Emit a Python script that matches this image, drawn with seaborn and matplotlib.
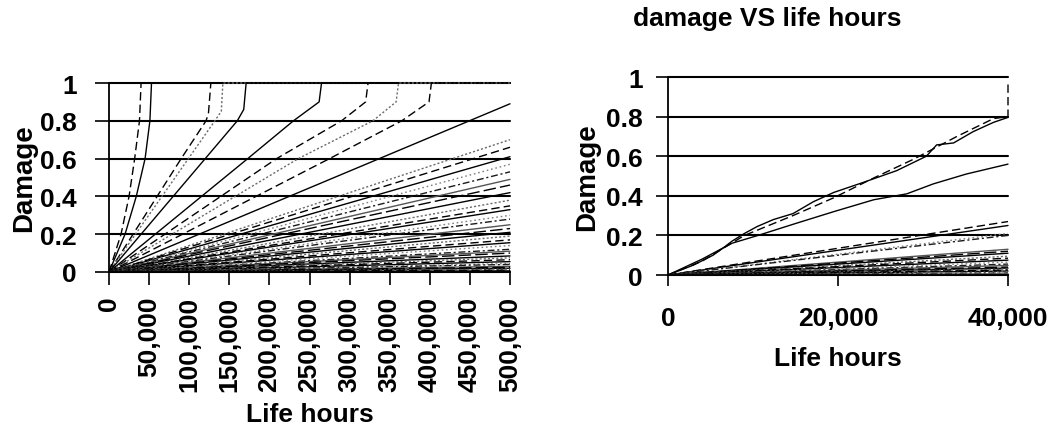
import matplotlib
matplotlib.use("Agg")
import matplotlib.pyplot as plt
import numpy as np
import pandas as pd
import seaborn as sns

# ---------------- data ----------------
# Left panel: curves that reach failure (damage = 1) before 500,000 h
fail_hours = [
    [0, 15e3, 25e3, 32e3, 38e3, 40e3, 500e3],
    [0, 20e3, 34e3, 45e3, 51e3, 53e3, 500e3],
    [0, 60e3, 90e3, 121e3, 124e3, 127e3, 500e3],
    [0, 66e3, 99e3, 132e3, 140e3, 142e3, 500e3],
    [0, 80e3, 120e3, 160e3, 168e3, 171e3, 500e3],
    [0, 173e3, 230e3, 262e3, 265e3, 500e3],
    [0, 209e3, 290e3, 320e3, 323e3, 500e3],
    [0, 236e3, 329e3, 358e3, 361e3, 500e3],
    [0, 275e3, 365e3, 399e3, 402e3, 500e3],
]
fail_damage = [
    [0, 0.2, 0.4, 0.6, 0.8, 1.0, 1.0],
    [0, 0.2, 0.4, 0.6, 0.8, 1.0, 1.0],
    [0, 0.4, 0.6, 0.8, 0.84, 1.0, 1.0],
    [0, 0.4, 0.6, 0.8, 0.85, 1.0, 1.0],
    [0, 0.4, 0.6, 0.8, 0.86, 1.0, 1.0],
    [0, 0.6, 0.8, 0.9, 1.0, 1.0],
    [0, 0.6, 0.8, 0.9, 1.0, 1.0],
    [0, 0.6, 0.8, 0.9, 1.0, 1.0],
    [0, 0.6, 0.8, 0.9, 1.0, 1.0],
]
# Left panel: damage reached at 500,000 h by the remaining load cases
fan_hours_left = [0, 500e3]
fan_end_left = [0.89, 0.70, 0.66, 0.61, 0.57, 0.53, 0.49, 0.46, 0.42, 0.38,
                0.35, 0.33, 0.30, 0.28, 0.25, 0.23, 0.21, 0.19, 0.17, 0.155,
                0.14, 0.12, 0.11, 0.10, 0.085, 0.075, 0.065, 0.055, 0.045,
                0.04, 0.03, 0.025, 0.02, 0.015, 0.01, 0.006]

# Right panel: recorded curves over the first 40,000 h
rec_hours = [
    [0, 3000, 5300, 6600, 7500, 9000, 10500, 12400, 14700, 17100, 19500,
     23000, 26900, 30400, 31600, 33600, 35900, 38300, 40000],
    [0, 4000, 9000, 14700, 19500, 24200, 28900, 34000, 38300, 40000, 40000],
    [0, 4000, 7500, 10600, 15000, 19500, 24200, 28100, 31200, 35100, 40000],
]
rec_damage = [
    [0, 0.05, 0.10, 0.14, 0.17, 0.21, 0.245, 0.28, 0.31, 0.37, 0.417,
     0.468, 0.527, 0.60, 0.657, 0.667, 0.724, 0.771, 0.796],
    [0, 0.07, 0.2, 0.30, 0.39, 0.49, 0.585, 0.70, 0.79, 0.80, 0.97],
    [0, 0.08, 0.16, 0.20, 0.26, 0.32, 0.38, 0.41, 0.46, 0.51, 0.56],
]
fan_hours_right = [0, 40000]
fan_end_right = [0.27, 0.25, 0.21, 0.20, 0.13, 0.12, 0.11, 0.095, 0.085,
                 0.075, 0.065, 0.055, 0.048, 0.04, 0.035, 0.03, 0.025, 0.02,
                 0.015, 0.01, 0.006]

y_ticks = [0, 0.2, 0.4, 0.6, 0.8, 1.0]
y_tick_labels = ["0", "0.2", "0.4", "0.6", "0.8", "1"]
x_ticks_left = [0, 50000, 100000, 150000, 200000, 250000, 300000, 350000,
                400000, 450000, 500000]
x_ticks_right = [0, 20000, 40000]

# ---------------- line styles ----------------
STYLES = [
    ("#000000", ""),
    ("#6a6a6a", (1.5, 1.5)),
    ("#000000", (6, 3)),
    ("#000000", ""),
    ("#808080", (1.2, 2.0)),
    ("#1a1a1a", (5, 2, 1.5, 2)),
    ("#555555", ""),
    ("#000000", (9, 3)),
]
fail_style_idx = [2, 0, 2, 1, 0, 0, 2, 1, 2]
rec_style_idx = [0, 2, 0]


def build(curves):
    rows, pal, dash = [], {}, {}
    for name, hrs, dmg, (col, ds) in curves:
        for h, d in zip(hrs, dmg):
            rows.append((name, h, d))
        pal[name] = col
        dash[name] = ds
    df = pd.DataFrame(rows, columns=["series", "hours", "damage"])
    return df, pal, dash


left_curves = []
for i, (h, d) in enumerate(zip(fail_hours, fail_damage)):
    left_curves.append((f"F{i}", h, d, STYLES[fail_style_idx[i]]))
for i, v in enumerate(fan_end_left):
    left_curves.append((f"L{i}", fan_hours_left, [0, v], STYLES[i % len(STYLES)]))

right_curves = []
for i, (h, d) in enumerate(zip(rec_hours, rec_damage)):
    right_curves.append((f"R{i}", h, d, STYLES[rec_style_idx[i]]))
for i, v in enumerate(fan_end_right):
    right_curves.append((f"S{i}", fan_hours_right, [0, v], STYLES[(i + 2) % len(STYLES)]))

df_left, pal_left, dash_left = build(left_curves)
df_right, pal_right, dash_right = build(right_curves)

# ---------------- figure ----------------
sns.set_theme(style="white")
plt.rcParams["font.family"] = ["Liberation Sans", "DejaVu Sans"]
plt.rcParams["font.weight"] = "bold"
plt.rcParams["axes.labelweight"] = "bold"

FS = 19
fig = plt.figure(figsize=(10.55, 4.35), dpi=100)
ax1 = fig.add_axes([109 / 1055, 1 - 273 / 435, 401 / 1055, 189 / 435])
ax2 = fig.add_axes([668 / 1055, 1 - 276 / 435, 340 / 1055, 198 / 435])

for ax, df, pal, dash in ((ax1, df_left, pal_left, dash_left),
                          (ax2, df_right, pal_right, dash_right)):
    sns.lineplot(data=df, x="hours", y="damage", hue="series", style="series",
                 palette=pal, dashes=dash, sort=False, estimator=None,
                 legend=False, linewidth=1.0, ax=ax)
    for ln in ax.get_lines():
        ln.set_clip_on(False)
    ax.set_ylim(0, 1)
    ax.set_yticks(y_ticks)
    ax.set_yticklabels(y_tick_labels)
    ax.yaxis.grid(True, color="black", linewidth=1.5)
    ax.xaxis.grid(False)
    for gl in ax.get_ygridlines():
        gl.set_clip_on(False)
    for side in ("top", "right"):
        ax.spines[side].set_visible(False)
    for side in ("left", "bottom"):
        ax.spines[side].set_color("black")
        ax.spines[side].set_linewidth(1.3)
    ax.tick_params(axis="both", which="major", direction="out", color="black",
                   width=1.2, labelsize=FS, labelcolor="black",
                   bottom=True, left=True)
    ax.set_ylabel("Damage", fontsize=FS + 1, fontweight="bold", color="black")
    ax.set_xlabel("Life hours", fontsize=FS, fontweight="bold", color="black")
    for t in ax.get_xticklabels() + ax.get_yticklabels():
        t.set_fontweight("bold")

# left panel axes
ax1.set_xlim(0, 500000)
ax1.set_xticks(x_ticks_left)
ax1.set_xticklabels([f"{v:,}" for v in x_ticks_left], rotation=90,
                    fontweight="bold")
ax1.tick_params(axis="y", length=10, pad=13)
ax1.tick_params(axis="x", length=9, pad=8)
ax1.yaxis.set_label_coords(-0.18, 0.5)
ax1.xaxis.set_label_coords(0.5, -0.69)

# right panel axes
ax2.set_xlim(0, 40000)
ax2.set_xticks(x_ticks_right)
ax2.set_xticklabels([f"{v:,}" for v in x_ticks_right], fontweight="bold")
ax2.tick_params(axis="y", length=9, pad=9)
ax2.tick_params(axis="x", length=8, pad=14)
ax2.yaxis.set_label_coords(-0.2, 0.5)
ax2.xaxis.set_label_coords(0.5, -0.36)

fig.text(767 / 1055, 1 - 19 / 435, "damage VS life hours", ha="center",
         va="center", fontsize=FS, fontweight="bold", color="black")

fig.savefig("out.png", dpi=100, facecolor="white")
